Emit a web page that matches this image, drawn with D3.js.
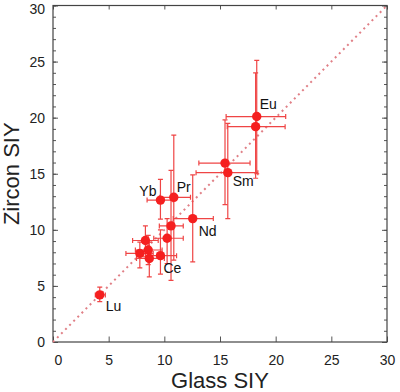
<!DOCTYPE html>
<html lang="en">

<head>
  <meta charset="UTF-8">
  <title>Zircon vs Glass SIY</title>
  <script src="https://cdn.jsdelivr.net/npm/d3@7/dist/d3.min.js"></script>
  <style>
    body { margin: 0; background: #fff; }
  </style>
</head>

<body>
  <div id="root"></div>
  <script>
    // data
    const labels = ['Lu', 'Eu', '', '', 'Sm', 'Yb', 'Pr', 'Nd', '', '', '', '', '', '', 'Ce'];
    const glassSIY = [4.2, 18.3, 18.2, 15.45, 15.7, 9.65, 10.85, 12.55, 10.6, 10.25, 8.3, 7.8, 8.55, 8.65, 9.65];
    const zirconSIY = [4.2, 20.1, 19.2, 15.95, 15.1, 12.65, 12.9, 11.0, 10.35, 9.25, 9.05, 7.9, 8.2, 7.45, 7.7];
    const glassLow = [3.8, 15.55, 15.65, 13.1, 12.85, 8.45, 9.6, 10.8, 9.55, 9.05, 7.15, 6.55, 7.4, 7.5, 8.6];
    const glassHigh = [4.7, 20.9, 20.85, 17.7, 18.4, 10.8, 12.35, 14.4, 11.7, 11.7, 9.45, 9.0, 9.8, 10.0, 11.1];
    const zirconLow = [3.6, 15.0, 14.6, 12.25, 11.0, 10.95, 7.3, 7.15, 5.5, 7.0, 7.6, 6.6, 6.9, 5.8, 6.05];
    const zirconHigh = [4.9, 25.1, 24.0, 19.8, 19.5, 14.5, 18.45, 14.9, 15.3, 11.0, 10.35, 8.9, 9.5, 8.9, 10.0];
    const majorTicks = [0, 5, 10, 15, 20, 25, 30];
    const minorTicks = d3.range(0, 31, 1);

    // label offsets (px) next to each point
    const labelPos = {
      Lu: [6, 16, 'start'], Eu: [3, -8, 'start'], Sm: [5, 13, 'start'],
      Yb: [-4, -4, 'end'], Pr: [3, -5, 'start'], Nd: [6, 17, 'start'], Ce: [3, 17, 'start']
    };

    const width = 400, height = 392;
    const plot = { left: 53, right: 387, top: 5.5, bottom: 342 };
    const red = '#f51f1f';
    const barRed = '#ef4545';

    const data = glassSIY.map((g, i) => ({
      label: labels[i], x: g, y: zirconSIY[i],
      x0: glassLow[i], x1: glassHigh[i], y0: zirconLow[i], y1: zirconHigh[i]
    }));

    const svg = d3.create('svg')
      .attr('width', width)
      .attr('height', height)
      .style('font-family', '"Liberation Sans", Arial, sans-serif');

    const x = d3.scaleLinear().domain([0, 30]).range([plot.left, plot.right]);
    const y = d3.scaleLinear().domain([0, 30]).range([plot.bottom, plot.top]);

    // axes: ticks point inward; minor ticks only on the left and right
    const styleAxis = g => {
      g.select('.domain').remove();
      g.selectAll('.tick line').attr('stroke', '#555');
      g.selectAll('.tick text').attr('fill', '#222').style('font-size', '14px');
    };

    svg.append('g')
      .attr('transform', `translate(0,${plot.bottom})`)
      .call(d3.axisBottom(x).tickValues(majorTicks).tickSize(-5.5).tickPadding(13))
      .call(styleAxis)
      .call(g => g.selectAll('.tick text').filter(d => d === 0).attr('dx', 5));

    svg.append('g')
      .attr('transform', `translate(0,${plot.top})`)
      .call(d3.axisTop(x).tickValues(majorTicks).tickSize(-4).tickFormat(''))
      .call(styleAxis);

    svg.append('g')
      .attr('transform', `translate(${plot.left},0)`)
      .call(d3.axisLeft(y).tickValues(majorTicks).tickSize(-5).tickPadding(8))
      .call(styleAxis)
      // top label sits a little lower so it stays inside the page
      .call(g => g.selectAll('.tick text').filter(d => d === 30).attr('dy', '0.6em'));
    svg.append('g')
      .attr('transform', `translate(${plot.left},0)`)
      .call(d3.axisLeft(y).tickValues(minorTicks).tickSize(-3).tickFormat(''))
      .call(styleAxis);

    svg.append('g')
      .attr('transform', `translate(${plot.right},0)`)
      .call(d3.axisRight(y).tickValues(majorTicks).tickSize(-5).tickFormat(''))
      .call(styleAxis);
    svg.append('g')
      .attr('transform', `translate(${plot.right},0)`)
      .call(d3.axisRight(y).tickValues(minorTicks).tickSize(-3).tickFormat(''))
      .call(styleAxis);

    // frame
    svg.append('rect')
      .attr('x', plot.left)
      .attr('y', plot.top)
      .attr('width', plot.right - plot.left)
      .attr('height', plot.bottom - plot.top)
      .attr('fill', 'none')
      .attr('stroke', '#444')
      .attr('stroke-width', 1.2);

    // 1:1 line
    svg.append('line')
      .attr('x1', x(0)).attr('y1', y(0))
      .attr('x2', x(30)).attr('y2', y(30))
      .attr('stroke', '#e07f86')
      .attr('stroke-width', 2)
      .attr('stroke-dasharray', '2,3.8');

    // error bars
    const cap = 2.5;
    const bars = svg.append('g')
      .attr('stroke', barRed)
      .attr('stroke-width', 1.2)
      .attr('fill', 'none');

    bars.selectAll('path.h')
      .data(data)
      .join('path')
      .attr('class', 'h')
      .attr('d', d => `M${x(d.x0)},${y(d.y)}H${x(d.x1)}`
        + `M${x(d.x0)},${y(d.y) - cap}V${y(d.y) + cap}`
        + `M${x(d.x1)},${y(d.y) - cap}V${y(d.y) + cap}`);

    bars.selectAll('path.v')
      .data(data)
      .join('path')
      .attr('class', 'v')
      .attr('d', d => `M${x(d.x)},${y(d.y0)}V${y(d.y1)}`
        + `M${x(d.x) - cap},${y(d.y0)}H${x(d.x) + cap}`
        + `M${x(d.x) - cap},${y(d.y1)}H${x(d.x) + cap}`);

    // points
    svg.append('g')
      .selectAll('circle')
      .data(data)
      .join('circle')
      .attr('cx', d => x(d.x))
      .attr('cy', d => y(d.y))
      .attr('r', 4.7)
      .attr('fill', red);

    // element labels
    svg.append('g')
      .selectAll('text')
      .data(data.filter(d => d.label))
      .join('text')
      .attr('x', d => x(d.x) + labelPos[d.label][0])
      .attr('y', d => y(d.y) + labelPos[d.label][1])
      .attr('text-anchor', d => labelPos[d.label][2])
      .attr('fill', '#111')
      .style('font-size', '14px')
      .text(d => d.label);

    // axis titles
    svg.append('text')
      .attr('x', (plot.left + plot.right) / 2)
      .attr('y', 388)
      .attr('text-anchor', 'middle')
      .attr('fill', '#222')
      .style('font-size', '22px')
      .text('Glass SIY');

    svg.append('text')
      .attr('transform', `translate(19,${(plot.top + plot.bottom) / 2}) rotate(-90)`)
      .attr('text-anchor', 'middle')
      .attr('fill', '#222')
      .style('font-size', '22px')
      .text('Zircon SIY');

    document.getElementById('root').append(svg.node());
  </script>
</body>

</html>
